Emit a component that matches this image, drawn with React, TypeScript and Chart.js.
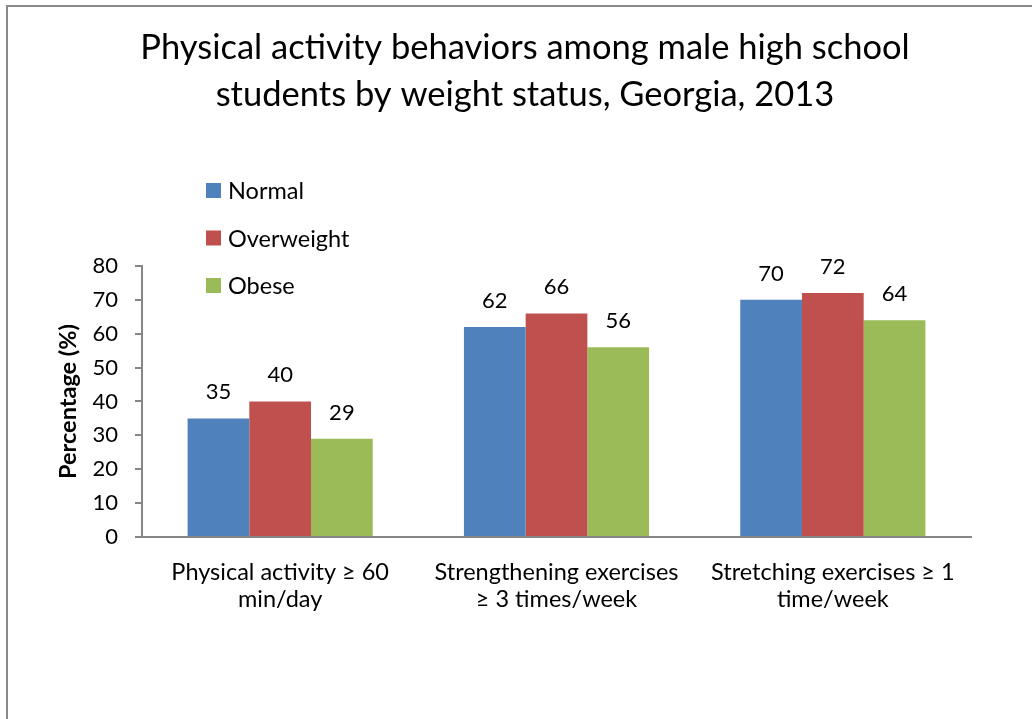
import React, { useEffect, useRef } from "react";
import { Chart, registerables } from "chart.js";

Chart.register(...registerables);

const titleLines = [
  "Physical activity behaviors among male high school",
  "students by weight status, Georgia, 2013",
];
const categories: string[][] = [
  ["Physical activity \u2265 60", "min/day"],
  ["Strengthening exercises", "\u2265 3 times/week"],
  ["Stretching exercises \u2265 1", "time/week"],
];
const seriesNames = ["Normal", "Overweight", "Obese"];
const normalValues = [35, 62, 70];
const overweightValues = [40, 66, 72];
const obeseValues = [29, 56, 64];
const seriesColors = ["#4F81BD", "#C0504D", "#9BBB59"];
const yTitle = "Percentage (%)";

const FONT = "Lato, 'Noto Sans', sans-serif";
const AXIS = "#868686";

const dataLabelPlugin = {
  id: "dataLabels",
  afterDatasetsDraw(chart: any) {
    const ctx = chart.ctx;
    ctx.save();
    ctx.font = `22px ${FONT}`;
    ctx.fillStyle = "#000";
    ctx.textAlign = "center";
    ctx.textBaseline = "alphabetic";
    chart.data.datasets.forEach((ds: any, i: number) => {
      const meta = chart.getDatasetMeta(i);
      meta.data.forEach((el: any, j: number) => {
        ctx.fillText(String(ds.data[j]), el.x, el.y - 19);
      });
    });
    ctx.restore();
  },
};

const legendPlugin = {
  id: "customLegend",
  afterDraw(chart: any) {
    const ctx = chart.ctx;
    ctx.save();
    ctx.font = `23.5px ${FONT}`;
    ctx.textAlign = "left";
    ctx.textBaseline = "middle";
    chart.data.datasets.forEach((ds: any, i: number) => {
      const cy = 190.5 + i * 47.5;
      ctx.fillStyle = ds.backgroundColor;
      ctx.fillRect(206, cy - 7.5, 15, 15);
      ctx.fillStyle = "#000";
      ctx.fillText(ds.label, 228, cy + 1);
    });
    ctx.restore();
  },
};

export default function App() {
  const ref = useRef<HTMLCanvasElement>(null);

  useEffect(() => {
    if (!ref.current) return;
    const values = [normalValues, overweightValues, obeseValues];
    const chart = new Chart(ref.current, {
      type: "bar",
      data: {
        labels: categories,
        datasets: seriesNames.map((name, i) => ({
          label: name,
          data: values[i],
          backgroundColor: seriesColors[i],
          borderWidth: 0,
          categoryPercentage: 0.67,
          barPercentage: 1,
        })),
      },
      options: {
        animation: false,
        responsive: false,
        devicePixelRatio: 1,
        layout: { padding: { top: 4, left: 79, right: 61, bottom: 82 } },
        plugins: {
          legend: { display: false },
          tooltip: { enabled: false },
          title: {
            display: true,
            text: titleLines,
            color: "#000",
            font: { family: FONT, size: 34.5, weight: "normal", lineHeight: 1.362 },
            padding: { top: 20, bottom: 148 },
          },
        },
        scales: {
          x: {
            grid: { display: false },
            border: { display: true, color: AXIS, width: 2 },
            ticks: {
              color: "#000",
              padding: 14,
              maxRotation: 0,
              autoSkip: false,
              font: { family: FONT, size: 23.5, lineHeight: 1.15 },
            },
            afterFit: (s: any) => {
              s.height = 100;
            },
          },
          y: {
            min: 0,
            max: 80,
            grid: {
              drawOnChartArea: false,
              drawTicks: true,
              tickLength: 7,
              color: AXIS,
              lineWidth: 2,
            },
            border: { display: true, color: AXIS, width: 2 },
            ticks: {
              stepSize: 10,
              color: "#000",
              padding: 17,
              font: { family: FONT, size: 22 },
            },
            title: {
              display: true,
              text: yTitle,
              color: "#000",
              padding: { top: -25, bottom: 0 },
              font: { family: FONT, size: 23.5, weight: "bold", lineHeight: 1.2 },
            },
            afterFit: (s: any) => {
              s.width = 63;
            },
          },
        },
      },
      plugins: [dataLabelPlugin, legendPlugin],
    });
    return () => chart.destroy();
  }, []);

  return (
    <div
      style={{
        position: "fixed",
        left: 0,
        top: 0,
        width: 1032,
        height: 719,
        overflow: "hidden",
        background: "#fff",
      }}
    >
      <div
        style={{
          position: "absolute",
          left: 6,
          top: 5,
          width: 1100,
          height: 800,
          borderTop: "2px solid #898989",
          borderLeft: "2px solid #898989",
        }}
      />
      <canvas
        ref={ref}
        width={1032}
        height={719}
        style={{ position: "absolute", left: 0, top: 0, width: 1032, height: 719 }}
      />
    </div>
  );
}
